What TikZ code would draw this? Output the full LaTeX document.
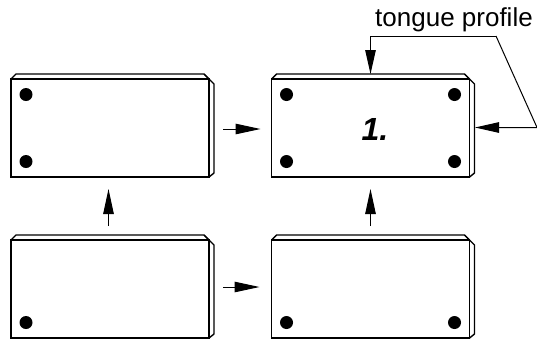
\documentclass[tikz,border=0pt]{standalone}
\usepackage{fontspec}
\setmainfont{Liberation Sans}
\usetikzlibrary{arrows.meta}
\tikzset{
  blockface/.style={draw,line width=1.4pt,minimum width=198pt,minimum height=98pt,inner sep=0pt,outer sep=0pt},
  blockedge/.style={line width=1.4pt,line join=round},
  flow/.style={line width=1pt,-{Triangle[length=25pt,width=10.5pt]}},
  leader/.style={line width=1pt,-{Triangle[length=24pt,width=10.5pt]}},
}
\newcommand{\blockback}[1]{
  \draw[blockedge] (#1.north west) -- ++(5,-5) -- ++(188,0) -- ++(10,10) -- ++(0,89) -- (#1.south east);
  \draw[blockedge] (#1.north east) -- ++(-5,-5);
}
\begin{document}
\begin{tikzpicture}[x=1pt,y=-1pt]
  \useasboundingbox (0,0) rectangle (537,341);
  % blocks
  \node[blockface] (blocktl) at (110,128) {};
  \node[blockface] (blocktr) at (370.5,128) {};
  \node[blockface] (blockbl) at (110,289) {};
  \node[blockface] (blockbr) at (370.5,289) {};
  \blockback{blocktl}
  \blockback{blocktr}
  \blockback{blockbl}
  \blockback{blockbr}
  % holes
  \fill (blocktl.north west) ++(15,15.5) circle (6.5pt);
  \fill (blocktl.south west) ++(15,-15.5) circle (6.5pt);
  \fill (blocktr.north west) ++(15,15.5) circle (6.5pt);
  \fill (blocktr.south west) ++(15,-15.5) circle (6.5pt);
  \fill (blocktr.north east) ++(-15,15.5) circle (6.5pt);
  \fill (blocktr.south east) ++(-15,-15.5) circle (6.5pt);
  \fill (blockbl.south west) ++(15,-15.5) circle (6.5pt);
  \fill (blockbr.south west) ++(15,-15.5) circle (6.5pt);
  \fill (blockbr.south east) ++(-15,-15.5) circle (6.5pt);
  % order of work
  \draw[flow,shorten <=14pt,shorten >=11pt] ([yshift=-1pt]blocktl.east) -- ([yshift=-1pt]blocktr.west);
  \draw[flow,shorten <=14pt,shorten >=12pt] ([yshift=2pt]blockbl.east) -- ([yshift=2pt]blockbr.west);
  \draw[flow,shorten <=14pt,shorten >=12pt] ([xshift=-1.5pt]blockbl.north) -- ([xshift=-1.5pt]blocktl.south);
  \draw[flow,shorten <=14pt,shorten >=12pt] (blockbr.north) -- (blocktr.south);
  % labels
  \node[anchor=base,font=\fontsize{26}{26}\selectfont,inner sep=0pt] (tongue) at (454,26) {tongue profile};
  \node[anchor=base,font=\fontsize{32}{32}\selectfont\bfseries\itshape,inner sep=0pt] (first) at (375,140) {1.};
  \coordinate (leadup) at (370.5,36);
  \coordinate (leadbend) at (496,36);
  \coordinate (leadfar) at (537,127.5);
  \coordinate (leadside) at (475,127.5);
  \coordinate (leadtop) at (370.5,74);
  \draw[leader] (leadbend) -- (leadup) -- (leadtop);
  \draw[leader] (leadbend) -- (leadfar) -- (leadside);
\end{tikzpicture}
\end{document}
